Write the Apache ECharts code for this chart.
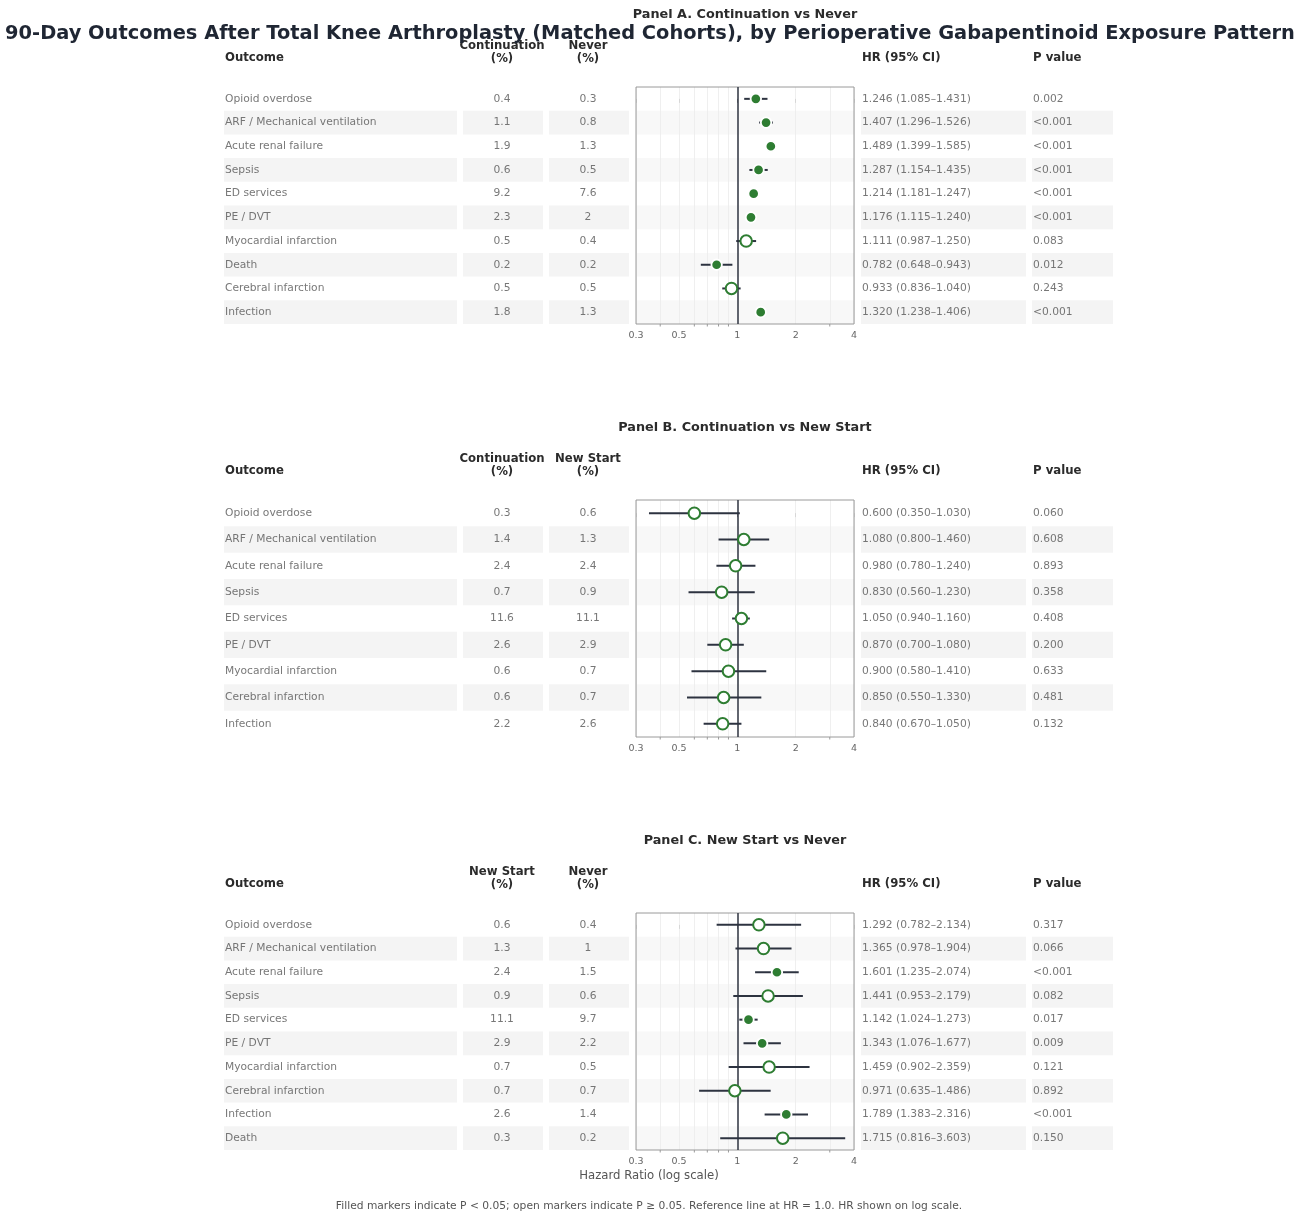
<!DOCTYPE html>
<html><head><meta charset="utf-8">
<script src="https://cdn.jsdelivr.net/npm/echarts@6/dist/echarts.min.js"></script>
<style>html,body{margin:0;padding:0;background:#fff}#c{width:1306px;height:1213px}</style>
</head><body><div id="c"></div>
<script>
// ---------------- DATA ----------------
const mainTitle = '90-Day Outcomes After Total Knee Arthroplasty (Matched Cohorts), by Perioperative Gabapentinoid Exposure Pattern';
const panelTitles = ['Panel A. Continuation vs Never', 'Panel B. Continuation vs New Start', 'Panel C. New Start vs Never'];
const headerOutcome = 'Outcome';
const headerHR = 'HR (95% CI)';
const headerP = 'P value';
const groupHeadersA = ['Continuation\n(%)', 'Never\n(%)'];
const groupHeadersB = ['Continuation\n(%)', 'New Start\n(%)'];
const groupHeadersC = ['New Start\n(%)', 'Never\n(%)'];

const outcomesA = ['Opioid overdose','ARF / Mechanical ventilation','Acute renal failure','Sepsis','ED services','PE / DVT','Myocardial infarction','Death','Cerebral infarction','Infection'];
const pct1A = ['0.4','1.1','1.9','0.6','9.2','2.3','0.5','0.2','0.5','1.8'];
const pct2A = ['0.3','0.8','1.3','0.5','7.6','2','0.4','0.2','0.5','1.3'];
const hrA = [1.246,1.407,1.489,1.287,1.214,1.176,1.111,0.782,0.933,1.320];
const loA = [1.085,1.296,1.399,1.154,1.181,1.115,0.987,0.648,0.836,1.238];
const hiA = [1.431,1.526,1.585,1.435,1.247,1.240,1.250,0.943,1.040,1.406];
const pA = ['0.002','<0.001','<0.001','<0.001','<0.001','<0.001','0.083','0.012','0.243','<0.001'];

const outcomesB = ['Opioid overdose','ARF / Mechanical ventilation','Acute renal failure','Sepsis','ED services','PE / DVT','Myocardial infarction','Cerebral infarction','Infection'];
const pct1B = ['0.3','1.4','2.4','0.7','11.6','2.6','0.6','0.6','2.2'];
const pct2B = ['0.6','1.3','2.4','0.9','11.1','2.9','0.7','0.7','2.6'];
const hrB = [0.600,1.080,0.980,0.830,1.050,0.870,0.900,0.850,0.840];
const loB = [0.350,0.800,0.780,0.560,0.940,0.700,0.580,0.550,0.670];
const hiB = [1.030,1.460,1.240,1.230,1.160,1.080,1.410,1.330,1.050];
const pB = ['0.060','0.608','0.893','0.358','0.408','0.200','0.633','0.481','0.132'];

const outcomesC = ['Opioid overdose','ARF / Mechanical ventilation','Acute renal failure','Sepsis','ED services','PE / DVT','Myocardial infarction','Cerebral infarction','Infection','Death'];
const pct1C = ['0.6','1.3','2.4','0.9','11.1','2.9','0.7','0.7','2.6','0.3'];
const pct2C = ['0.4','1','1.5','0.6','9.7','2.2','0.5','0.7','1.4','0.2'];
const hrC = [1.292,1.365,1.601,1.441,1.142,1.343,1.459,0.971,1.789,1.715];
const loC = [0.782,0.978,1.235,0.953,1.024,1.076,0.902,0.635,1.383,0.816];
const hiC = [2.134,1.904,2.074,2.179,1.273,1.677,2.359,1.486,2.316,3.603];
const pC = ['0.317','0.066','<0.001','0.082','0.017','0.009','0.121','0.892','<0.001','0.150'];

const xTickLabels = [0.3, 0.5, 1, 2, 4];
const xMinorTicks = [0.4, 0.6, 0.7, 0.8, 0.9, 3];
const xGridValues = [0.3, 0.4, 0.5, 0.6, 0.7, 0.8, 0.9, 2, 3, 4];
const xAxisName = 'Hazard Ratio (log scale)';
const footnote = 'Filled markers indicate P < 0.05; open markers indicate P \u2265 0.05. Reference line at HR = 1.0. HR shown on log scale.';

// ---------------- LAYOUT / STYLE ----------------
const FONT = 'DejaVu Sans';
const W = 1306;
const GREEN = '#2e7d32';
const CI_COLOR = '#2d3340';
const REF_COLOR = '#3a3f4b';
const TEXT = '#555555';
const HEAD = '#2b2b2b';
const STRIPE = '#f4f4f4';
const STRIPE_PLOT = '#f8f8f8';
const colSpans = [[224,457],[463,543],[549,629],[861,1026],[1032,1113]];
const plotSpan = [636, 854];
const textX = {outcome:225, c1:502, c2:588, hr:862, p:1033};
const boxH = 237;
const panelTops = [87, 500, 913];

const panels = [
  {title: panelTitles[0], heads: groupHeadersA, outcomes: outcomesA, p1: pct1A, p2: pct2A, hr: hrA, lo: loA, hi: hiA, p: pA},
  {title: panelTitles[1], heads: groupHeadersB, outcomes: outcomesB, p1: pct1B, p2: pct2B, hr: hrB, lo: loB, hi: hiB, p: pB},
  {title: panelTitles[2], heads: groupHeadersC, outcomes: outcomesC, p1: pct1C, p2: pct2C, hr: hrC, lo: loC, hi: hiC, p: pC}
];

function isSig(p) { return p.charAt(0) === '<' || parseFloat(p) < 0.05; }
function fmtHR(h, l, u) { return h.toFixed(3) + ' (' + l.toFixed(3) + '\u2013' + u.toFixed(3) + ')'; }

const grid = [], xAxis = [], yAxis = [], series = [], graphic = [];

function txt(x, y, text, opt) {
  const st = Object.assign({
    text: text, fill: TEXT, fontFamily: FONT, fontSize: 11,
    align: 'left', textAlign: 'left', verticalAlign: 'middle', textVerticalAlign: 'middle'
  }, opt || {});
  if (opt && opt.align) st.textAlign = opt.align;
  if (opt && opt.verticalAlign) st.textVerticalAlign = opt.verticalAlign;
  graphic.push({type: 'text', x: x, y: y, silent: true, z: 100, style: st});
}

panels.forEach(function (P, k) {
  const n = P.outcomes.length;
  const top = panelTops[k];
  const gT = 2 * k, gP = 2 * k + 1;

  grid.push({left: 0, top: top, width: W, height: boxH, show: false});
  grid.push({left: plotSpan[0], top: top, width: plotSpan[1] - plotSpan[0], height: boxH,
    show: true, borderColor: '#9a9a9a', borderWidth: 1, backgroundColor: 'transparent', z: 3});

  xAxis.push({gridIndex: gT, type: 'value', min: 0, max: W, show: false});
  yAxis.push({gridIndex: gT, type: 'value', inverse: true, min: -0.5, max: n - 0.5, show: false});
  xAxis.push({gridIndex: gP, type: 'log', logBase: 10, min: 0.3, max: 4,
    axisLine: {show: false},
    axisTick: {show: true, customValues: xTickLabels, length: 4, lineStyle: {color: '#888'}},
    axisLabel: {show: true, customValues: xTickLabels, fontFamily: FONT, fontSize: 9.5, color: '#666', margin: 7,
      formatter: function (v) { return String(v); }},
    splitLine: {show: false}, minorTick: {show: false}
  });
  yAxis.push({gridIndex: gP, type: 'value', inverse: true, min: -0.5, max: n - 0.5, show: false});

  // stripes
  const areas = [];
  for (let i = 1; i < n; i += 2) {
    colSpans.forEach(function (s) {
      areas.push([{xAxis: s[0], yAxis: i - 0.5, itemStyle: {color: STRIPE}}, {xAxis: s[1], yAxis: i + 0.5}]);
    });
    areas.push([{xAxis: plotSpan[0], yAxis: i - 0.5, itemStyle: {color: STRIPE_PLOT}}, {xAxis: plotSpan[1], yAxis: i + 0.5}]);
  }

  // table text
  const cells = [];
  const lab = function (x, i, text, align) {
    cells.push({value: [x, i], label: {formatter: text, align: align}});
  };
  for (let i = 0; i < n; i++) {
    lab(textX.outcome, i, P.outcomes[i], 'left');
    lab(textX.c1, i, P.p1[i], 'center');
    lab(textX.c2, i, P.p2[i], 'center');
    lab(textX.hr, i, fmtHR(P.hr[i], P.lo[i], P.hi[i]), 'left');
    lab(textX.p, i, P.p[i], 'left');
  }
  series.push({
    type: 'scatter', xAxisIndex: gT, yAxisIndex: gT, silent: true, z: 1,
    symbol: 'circle', symbolSize: 1, itemStyle: {color: 'transparent'},
    label: {show: true, position: 'inside', verticalAlign: 'middle', fontFamily: FONT, fontSize: 10.7, color: TEXT},
    data: cells,
    markArea: {silent: true, z: 0, data: areas}
  });

  // light vertical gridlines + minor ticks (below everything else in the plot)
  series.push({
    type: 'custom', xAxisIndex: gP, yAxisIndex: gP, silent: true, z: 2, clip: false,
    encode: {x: 0, y: 1},
    renderItem: function (params, api) {
      const a = api.coord([api.value(0), api.value(1)]);
      return {type: 'line', shape: {x1: a[0], y1: a[1], x2: a[0], y2: a[1] + 2.5},
        style: {stroke: '#999', lineWidth: 1}};
    },
    data: xMinorTicks.map(function (v) { return [v, n - 0.5]; }),
    markLine: {silent: true, z: 1, symbol: 'none', label: {show: false}, animation: false,
      data: xGridValues.map(function (v) { return {xAxis: v, lineStyle: {color: '#ebebeb', width: 0.8, type: 'solid'}}; })
    }
  });

  // CI lines + reference line
  const ciData = [];
  for (let i = 0; i < n; i++) ciData.push([i, P.lo[i], P.hi[i]]);
  series.push({
    type: 'custom', xAxisIndex: gP, yAxisIndex: gP, silent: true, z: 4,
    encode: {x: [1, 2], y: 0},
    renderItem: function (params, api) {
      const a = api.coord([api.value(1), api.value(0)]);
      const b = api.coord([api.value(2), api.value(0)]);
      return {type: 'line', shape: {x1: a[0], y1: a[1], x2: b[0], y2: b[1]},
        style: {stroke: CI_COLOR, lineWidth: 2}};
    },
    data: ciData,
    markLine: {silent: true, z: 3, symbol: 'none', label: {show: false}, animation: false,
      data: [{xAxis: 1, lineStyle: {color: REF_COLOR, width: 1.6, type: 'solid'}}]
    }
  });

  // markers
  const filled = [], open = [];
  for (let i = 0; i < n; i++) {
    (isSig(P.p[i]) ? filled : open).push([P.hr[i], i]);
  }
  series.push({
    type: 'scatter', xAxisIndex: gP, yAxisIndex: gP, silent: true, z: 6,
    symbol: 'circle', symbolSize: 10.5,
    itemStyle: {color: GREEN, borderColor: '#ffffff', borderWidth: 1.8, opacity: 1},
    data: filled
  });
  series.push({
    type: 'scatter', xAxisIndex: gP, yAxisIndex: gP, silent: true, z: 6,
    symbol: 'circle', symbolSize: 11.5,
    itemStyle: {color: '#ffffff', borderColor: GREEN, borderWidth: 2, opacity: 1},
    data: open
  });

  // headers
  const hy = top - 30;
  txt((plotSpan[0] + plotSpan[1]) / 2, top - 72, P.title, {align: 'center', fontWeight: 'bold', fontSize: 12.8, fill: HEAD});
  txt(textX.outcome, hy + 1, headerOutcome, {fontWeight: 'bold', fontSize: 11.7, fill: HEAD});
  txt(textX.c1, hy + 8, P.heads[0], {align: 'center', verticalAlign: 'bottom', fontWeight: 'bold', fontSize: 11.7, fill: HEAD, lineHeight: 13});
  txt(textX.c2, hy + 8, P.heads[1], {align: 'center', verticalAlign: 'bottom', fontWeight: 'bold', fontSize: 11.7, fill: HEAD, lineHeight: 13});
  txt(textX.hr, hy + 1, headerHR, {fontWeight: 'bold', fontSize: 11.7, fill: HEAD});
  txt(textX.p, hy + 1, headerP, {fontWeight: 'bold', fontSize: 11.7, fill: HEAD});
});

txt(650, 34, mainTitle, {align: 'center', fontWeight: 'bold', fontSize: 19.4, fill: '#1f2633'});
txt(649, 1176, xAxisName, {align: 'center', fontSize: 11.7, fill: TEXT});
txt(649, 1206, footnote, {align: 'center', fontSize: 10.7, fill: TEXT});

const chart = echarts.init(document.getElementById('c'), null, {renderer: 'canvas'});
chart.setOption({
  animation: false,
  backgroundColor: '#ffffff',
  grid: grid, xAxis: xAxis, yAxis: yAxis, series: series, graphic: graphic
});
</script></body></html>
